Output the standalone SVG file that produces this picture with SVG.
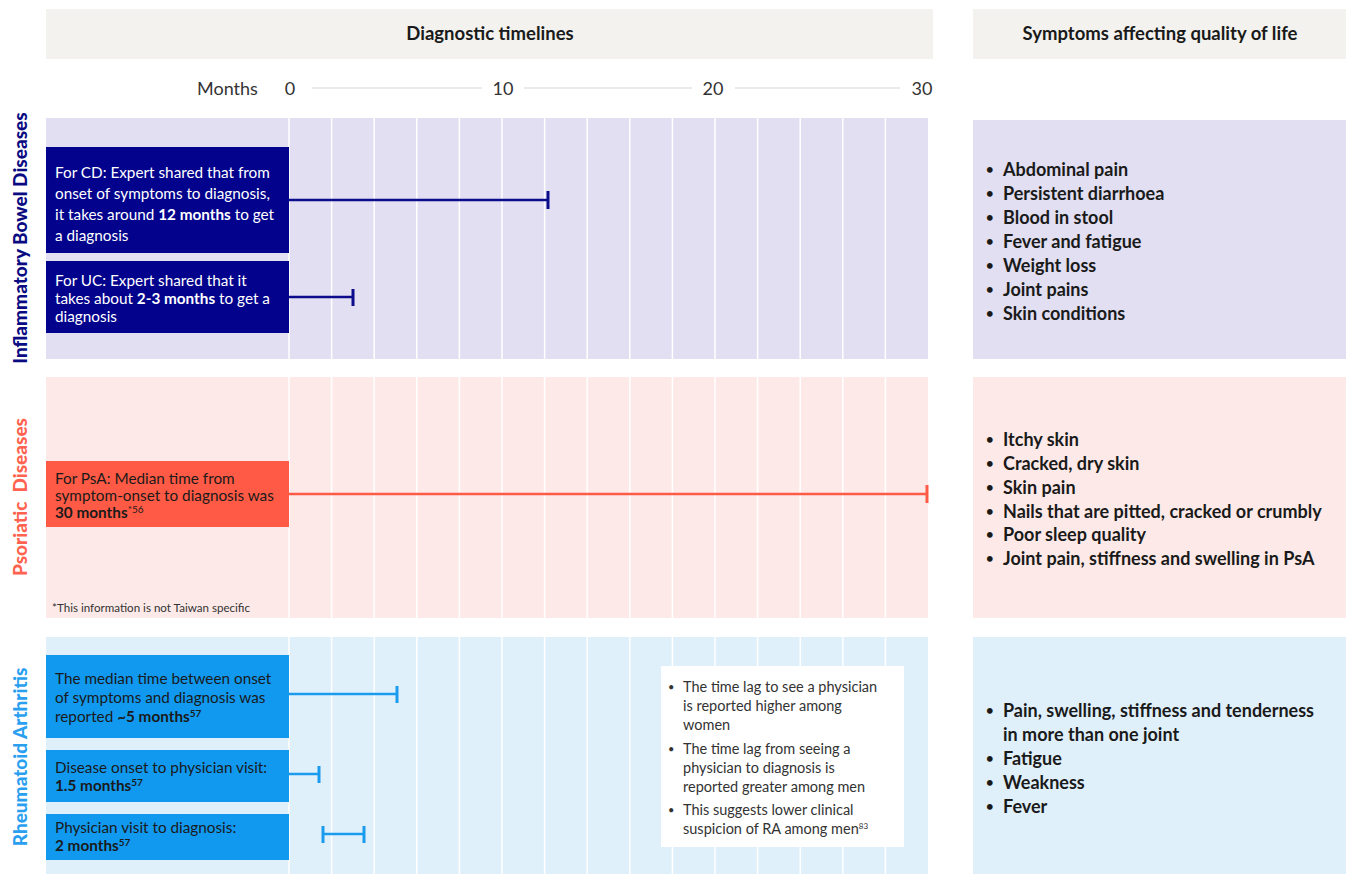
<svg xmlns="http://www.w3.org/2000/svg" width="1352" height="875" viewBox="0 0 1352 875">
<defs>
<style>
text{font-family:Lato,"Noto Sans","Liberation Sans",sans-serif;}
.hdr{font-size:18.5px;font-weight:700;fill:#1a1a1a;text-anchor:middle;}
.ax{font-size:18px;fill:#333;}
.axl{stroke:#d6d6d6;stroke-width:1.2;}
.grid{stroke:#ffffff;stroke-width:1.5;}
.side{font-size:19px;font-weight:900;text-anchor:middle;}
.bt{font-size:15.3px;}
.w{fill:#ffffff;}
.d{fill:#1a1a1a;}
.b{font-weight:700;}
.sup{font-size:10px;}
.sym{font-size:18px;font-weight:700;fill:#1a1a1a;}
.bul{font-size:13px;font-weight:700;}
.note{font-size:14.5px;fill:#333;}
.nb{font-size:11px;}
</style>
</defs>
<rect width="1352" height="875" fill="#ffffff"/>

<g id="header-timelines">
<rect x="46" y="9" width="887" height="50" fill="#f3f2ee"/>
<text class="hdr" x="490" y="40" font-size="20">Diagnostic timelines</text>
</g>
<g id="header-symptoms">
<rect x="973" y="9" width="373" height="50" fill="#f3f2ee"/>
<text class="hdr" x="1160" y="40">Symptoms affecting quality of life</text>
</g>

<g id="axis">
<text class="ax" x="197" y="95">Months</text>
<text class="ax" x="290" y="95" text-anchor="middle">0</text>
<text class="ax" x="503" y="95" text-anchor="middle">10</text>
<text class="ax" x="713" y="95" text-anchor="middle">20</text>
<text class="ax" x="922" y="95" text-anchor="middle">30</text>
<line class="axl" x1="312" y1="88" x2="482" y2="88"/>
<line class="axl" x1="524" y1="88" x2="692" y2="88"/>
<line class="axl" x1="735" y1="88" x2="900" y2="88"/>
</g>

<!-- IBD panel -->
<g id="panel-ibd">
<rect x="46" y="118" width="882" height="241" fill="#e1dff1"/>
<g class="grid">
<line x1="289" y1="118" x2="289" y2="359"/><line x1="331.6" y1="118" x2="331.6" y2="359"/><line x1="374.2" y1="118" x2="374.2" y2="359"/><line x1="416.8" y1="118" x2="416.8" y2="359"/><line x1="459.4" y1="118" x2="459.4" y2="359"/><line x1="502" y1="118" x2="502" y2="359"/><line x1="544.6" y1="118" x2="544.6" y2="359"/><line x1="587.2" y1="118" x2="587.2" y2="359"/><line x1="629.8" y1="118" x2="629.8" y2="359"/><line x1="672.4" y1="118" x2="672.4" y2="359"/><line x1="715" y1="118" x2="715" y2="359"/><line x1="757.6" y1="118" x2="757.6" y2="359"/><line x1="800.2" y1="118" x2="800.2" y2="359"/><line x1="842.8" y1="118" x2="842.8" y2="359"/><line x1="885.4" y1="118" x2="885.4" y2="359"/>
</g>
<text class="side" fill="#0a0a82" transform="translate(27,238) rotate(-90)">Inflammatory Bowel Diseases</text>
</g>

<g id="node-cd">
<rect x="46" y="147" width="243" height="106" fill="#02028c"/>
<text class="bt w" x="55" y="178">For CD: Expert shared that from</text>
<text class="bt w" x="55" y="199">onset of symptoms to diagnosis,</text>
<text class="bt w" x="55" y="220">it takes around <tspan class="b">12 months</tspan> to get</text>
<text class="bt w" x="55" y="241">a diagnosis</text>
</g>
<g id="node-uc">
<rect x="46" y="261" width="243" height="72" fill="#02028c"/>
<text class="bt w" x="55" y="286">For UC: Expert shared that it</text>
<text class="bt w" x="55" y="304">takes about <tspan class="b">2-3 months</tspan> to get a</text>
<text class="bt w" x="55" y="322">diagnosis</text>
</g>

<!-- PsA panel -->
<g id="panel-psa">
<rect x="46" y="377" width="882" height="241" fill="#fdeae8"/>
<g class="grid">
<line x1="289" y1="377" x2="289" y2="618"/><line x1="331.6" y1="377" x2="331.6" y2="618"/><line x1="374.2" y1="377" x2="374.2" y2="618"/><line x1="416.8" y1="377" x2="416.8" y2="618"/><line x1="459.4" y1="377" x2="459.4" y2="618"/><line x1="502" y1="377" x2="502" y2="618"/><line x1="544.6" y1="377" x2="544.6" y2="618"/><line x1="587.2" y1="377" x2="587.2" y2="618"/><line x1="629.8" y1="377" x2="629.8" y2="618"/><line x1="672.4" y1="377" x2="672.4" y2="618"/><line x1="715" y1="377" x2="715" y2="618"/><line x1="757.6" y1="377" x2="757.6" y2="618"/><line x1="800.2" y1="377" x2="800.2" y2="618"/><line x1="842.8" y1="377" x2="842.8" y2="618"/><line x1="885.4" y1="377" x2="885.4" y2="618"/>
</g>
<text class="side" fill="#ff6350" transform="translate(27,497) rotate(-90)" xml:space="preserve">Psoriatic  Diseases</text>
<text x="52" y="612" font-size="11.6" fill="#333">*This information is not Taiwan specific</text>
</g>

<g id="node-psa">
<rect x="46" y="461" width="243" height="66" fill="#ff5a45"/>
<text class="bt d" x="55" y="484">For PsA: Median time from</text>
<text class="bt d" x="55" y="501">symptom-onset to diagnosis was</text>
<text class="bt d" x="55" y="518"><tspan class="b">30 months</tspan><tspan class="sup" dy="-5">*56</tspan></text>
</g>

<!-- RA panel -->
<g id="panel-ra">
<rect x="46" y="637" width="882" height="237" fill="#e0f0fb"/>
<g class="grid">
<line x1="289" y1="637" x2="289" y2="874"/><line x1="331.6" y1="637" x2="331.6" y2="874"/><line x1="374.2" y1="637" x2="374.2" y2="874"/><line x1="416.8" y1="637" x2="416.8" y2="874"/><line x1="459.4" y1="637" x2="459.4" y2="874"/><line x1="502" y1="637" x2="502" y2="874"/><line x1="544.6" y1="637" x2="544.6" y2="874"/><line x1="587.2" y1="637" x2="587.2" y2="874"/><line x1="629.8" y1="637" x2="629.8" y2="874"/><line x1="672.4" y1="637" x2="672.4" y2="874"/><line x1="715" y1="637" x2="715" y2="874"/><line x1="757.6" y1="637" x2="757.6" y2="874"/><line x1="800.2" y1="637" x2="800.2" y2="874"/><line x1="842.8" y1="637" x2="842.8" y2="874"/><line x1="885.4" y1="637" x2="885.4" y2="874"/>
</g>
<text class="side" fill="#2a9ff0" transform="translate(27,757) rotate(-90)">Rheumatoid Arthritis</text>
</g>

<g id="node-ra-median">
<rect x="46" y="655" width="243" height="83" fill="#1199f0"/>
<text class="bt d" x="55" y="684">The median time between onset</text>
<text class="bt d" x="55" y="703">of symptoms and diagnosis was</text>
<text class="bt d" x="55" y="722">reported <tspan class="b">~5 months</tspan><tspan class="sup b" dy="-5">57</tspan></text>
</g>
<g id="node-ra-onset">
<rect x="46" y="750" width="243" height="52" fill="#1199f0"/>
<text class="bt d" x="55" y="773">Disease onset to physician visit:</text>
<text class="bt d" x="55" y="791"><tspan class="b">1.5 months</tspan><tspan class="sup b" dy="-5">57</tspan></text>
</g>
<g id="node-ra-visit">
<rect x="46" y="814" width="243" height="46" fill="#1199f0"/>
<text class="bt d" x="55" y="833">Physician visit to diagnosis:</text>
<text class="bt d" x="55" y="851"><tspan class="b">2 months</tspan><tspan class="sup b" dy="-5">57</tspan></text>
</g>

<g id="node-ra-note">
<rect x="661" y="666" width="243" height="181" fill="#ffffff"/>
<g class="note">
<text class="nb" x="668" y="691">•</text><text x="683" y="692">The time lag to see a physician</text>
<text x="683" y="711">is reported higher among</text>
<text x="683" y="730">women</text>
<text class="nb" x="668" y="753">•</text><text x="683" y="754">The time lag from seeing a</text>
<text x="683" y="773">physician to diagnosis is</text>
<text x="683" y="792">reported greater among men</text>
<text class="nb" x="668" y="814">•</text><text x="683" y="815">This suggests lower clinical</text>
<text x="683" y="834">suspicion of RA among men<tspan font-size="8" dy="-5">83</tspan></text>
</g>
</g>

<g id="connectors" stroke-width="2.5" fill="none">
<g stroke="#0b0b8c">
<line x1="289" y1="200" x2="548" y2="200"/><line x1="548" y1="191" x2="548" y2="209" stroke-width="3"/>
<line x1="289" y1="297" x2="353" y2="297"/><line x1="353" y1="289" x2="353" y2="306" stroke-width="3"/>
</g>
<g stroke="#ff5a45">
<line x1="289" y1="494" x2="927" y2="494"/><line x1="927" y1="485" x2="927" y2="503" stroke-width="3"/>
</g>
<g stroke="#1b9bee">
<line x1="289" y1="694" x2="397" y2="694"/><line x1="397" y1="686" x2="397" y2="703" stroke-width="3"/>
<line x1="289" y1="774" x2="319" y2="774"/><line x1="319" y1="766" x2="319" y2="783" stroke-width="3"/>
<line x1="323" y1="834" x2="364" y2="834"/><line x1="323" y1="826" x2="323" y2="843" stroke-width="3"/><line x1="364" y1="826" x2="364" y2="843" stroke-width="3"/>
</g>
</g>

<g id="node-sym-ibd">
<rect x="973" y="120" width="373" height="239" fill="#e1dff1"/>
<g class="sym">
<text class="bul" x="986" y="174">•</text><text x="1003" y="176">Abdominal pain</text>
<text class="bul" x="986" y="198">•</text><text x="1003" y="200">Persistent diarrhoea</text>
<text class="bul" x="986" y="222">•</text><text x="1003" y="224">Blood in stool</text>
<text class="bul" x="986" y="246">•</text><text x="1003" y="248">Fever and fatigue</text>
<text class="bul" x="986" y="270">•</text><text x="1003" y="272">Weight loss</text>
<text class="bul" x="986" y="294">•</text><text x="1003" y="296">Joint pains</text>
<text class="bul" x="986" y="318">•</text><text x="1003" y="320">Skin conditions</text>
</g>
</g>
<g id="node-sym-psa">
<rect x="973" y="377" width="373" height="241" fill="#fdeae8"/>
<g class="sym">
<text class="bul" x="986" y="444">•</text><text x="1003" y="446">Itchy skin</text>
<text class="bul" x="986" y="468">•</text><text x="1003" y="470">Cracked, dry skin</text>
<text class="bul" x="986" y="492">•</text><text x="1003" y="494">Skin pain</text>
<text class="bul" x="986" y="516">•</text><text x="1003" y="518">Nails that are pitted, cracked or crumbly</text>
<text class="bul" x="986" y="539">•</text><text x="1003" y="541">Poor sleep quality</text>
<text class="bul" x="986" y="563">•</text><text x="1003" y="565">Joint pain, stiffness and swelling in PsA</text>
</g>
</g>
<g id="node-sym-ra">
<rect x="973" y="637" width="373" height="237" fill="#e0f0fb"/>
<g class="sym">
<text class="bul" x="986" y="715">•</text><text x="1003" y="717">Pain, swelling, stiffness and tenderness</text>
<text x="1003" y="741">in more than one joint</text>
<text class="bul" x="986" y="763">•</text><text x="1003" y="765">Fatigue</text>
<text class="bul" x="986" y="787">•</text><text x="1003" y="789">Weakness</text>
<text class="bul" x="986" y="811">•</text><text x="1003" y="813">Fever</text>
</g>
</g>
</svg>
